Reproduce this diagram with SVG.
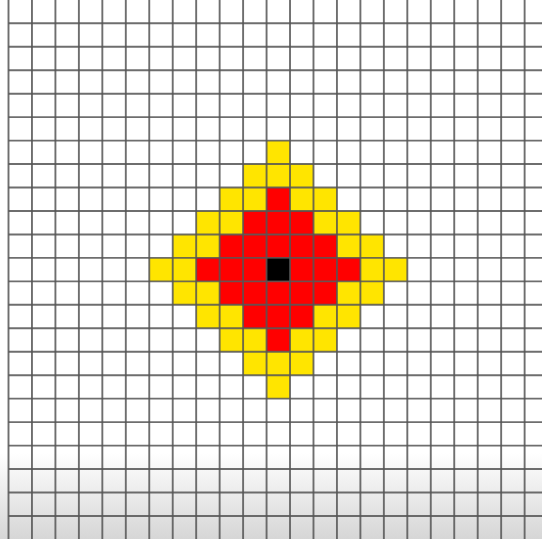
<svg xmlns="http://www.w3.org/2000/svg" width="542" height="539" viewBox="0 0 542 539">
  <defs>
    <linearGradient id="bg" x1="0" y1="0" x2="0" y2="539" gradientUnits="userSpaceOnUse">
      <stop offset="0" stop-color="#ffffff"/>
      <stop offset="0.84" stop-color="#ffffff"/>
      <stop offset="1" stop-color="#d6d6d6"/>
    </linearGradient>
  </defs>
  <style>
    .y { fill: #ffe500; }
    .r { fill: #ff0000; }
    .k { fill: #000000; }
    .grid { stroke: #555555; stroke-width: 1.9; fill: none; opacity: 0.85; }
  </style>
  <rect x="0" y="0" width="542" height="539" fill="url(#bg)"/>
  <g id="cells" transform="translate(8.5,23.3) scale(23.46)">
    <rect class="y" x="11" y="5" width="1" height="1"/>
    <rect class="y" x="10" y="6" width="3" height="1"/>
    <rect class="y" x="9" y="7" width="2" height="1"/>
    <rect class="r" x="11" y="7" width="1" height="1"/>
    <rect class="y" x="12" y="7" width="2" height="1"/>
    <rect class="y" x="8" y="8" width="2" height="1"/>
    <rect class="r" x="10" y="8" width="3" height="1"/>
    <rect class="y" x="13" y="8" width="2" height="1"/>
    <rect class="y" x="7" y="9" width="2" height="1"/>
    <rect class="r" x="9" y="9" width="5" height="1"/>
    <rect class="y" x="14" y="9" width="2" height="1"/>
    <rect class="y" x="6" y="10" width="2" height="1"/>
    <rect class="r" x="8" y="10" width="7" height="1"/>
    <rect class="k" x="11" y="10" width="1" height="1"/>
    <rect class="y" x="15" y="10" width="2" height="1"/>
    <rect class="y" x="7" y="11" width="2" height="1"/>
    <rect class="r" x="9" y="11" width="5" height="1"/>
    <rect class="y" x="14" y="11" width="2" height="1"/>
    <rect class="y" x="8" y="12" width="2" height="1"/>
    <rect class="r" x="10" y="12" width="3" height="1"/>
    <rect class="y" x="13" y="12" width="2" height="1"/>
    <rect class="y" x="9" y="13" width="2" height="1"/>
    <rect class="r" x="11" y="13" width="1" height="1"/>
    <rect class="y" x="12" y="13" width="2" height="1"/>
    <rect class="y" x="10" y="14" width="3" height="1"/>
    <rect class="y" x="11" y="15" width="1" height="1"/>
  </g>
  <g id="grid">
    <path class="grid" d="M8.5 0V539 M31.96 0V539 M55.42 0V539 M78.88 0V539 M102.34 0V539 M125.8 0V539 M149.26 0V539 M172.72 0V539 M196.18 0V539 M219.64 0V539 M243.1 0V539 M266.56 0V539 M290.02 0V539 M313.48 0V539 M336.94 0V539 M360.4 0V539 M383.86 0V539 M407.32 0V539 M430.78 0V539 M454.24 0V539 M477.7 0V539 M501.16 0V539 M524.62 0V539"/>
    <path class="grid" d="M8.5 23.3H542 M8.5 46.76H542 M8.5 70.22H542 M8.5 93.68H542 M8.5 117.14H542 M8.5 140.6H542 M8.5 164.06H542 M8.5 187.52H542 M8.5 210.98H542 M8.5 234.44H542 M8.5 257.9H542 M8.5 281.36H542 M8.5 304.82H542 M8.5 328.28H542 M8.5 351.74H542 M8.5 375.2H542 M8.5 398.66H542 M8.5 422.12H542 M8.5 445.58H542 M8.5 469.04H542 M8.5 492.5H542 M8.5 515.96H542"/>
  </g>
</svg>
